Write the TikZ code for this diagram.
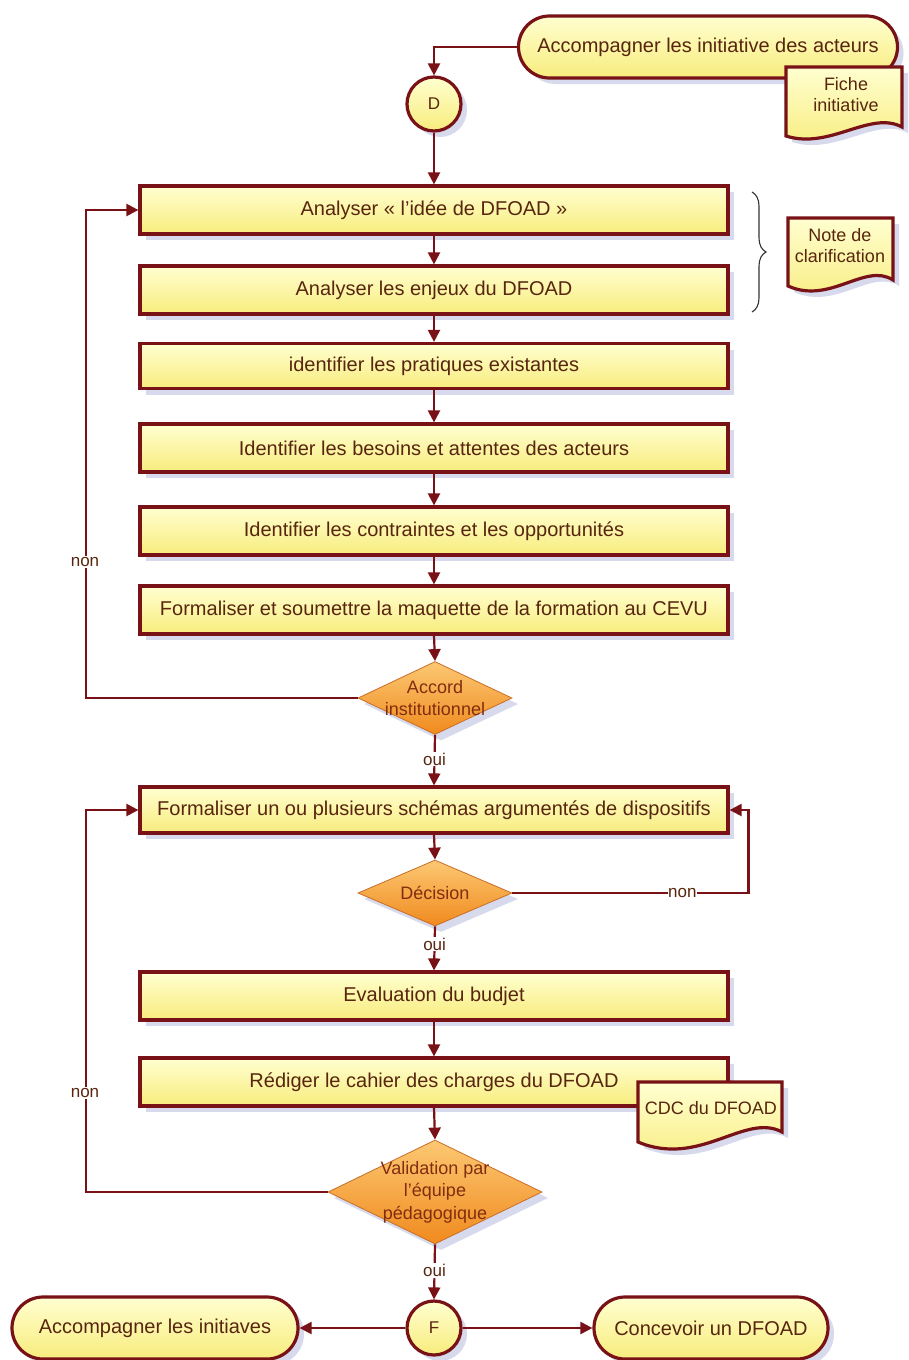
\documentclass[tikz,border=0pt]{standalone}
\usepackage{fontspec}
\setmainfont{Liberation Sans}
\usetikzlibrary{shapes.geometric,shapes.misc,shadows,arrows.meta,decorations.pathreplacing}
\definecolor{brd}{RGB}{120,18,22}
\definecolor{txt}{RGB}{88,38,14}
\definecolor{dtxt}{RGB}{130,45,15}
\definecolor{shd}{RGB}{214,218,236}
\definecolor{ytop}{RGB}{255,255,208}
\definecolor{ybot}{RGB}{248,236,125}
\definecolor{otop}{RGB}{252,200,115}
\definecolor{obot}{RGB}{240,138,30}
\definecolor{obrd}{RGB}{200,110,40}
\begin{document}
\begin{tikzpicture}[x=1pt,y=-1pt,
  shadowed/.style={drop shadow={shadow xshift=6pt,shadow yshift=-6pt,fill=shd,opacity=1}},
  proc/.style={rectangle,draw=brd,line width=3.2pt,top color=ytop,bottom color=ybot,
    minimum width=588pt,minimum height=48pt,inner sep=0pt,text=txt,
    font=\fontsize{20}{24}\selectfont,shadowed},
  term/.style={rounded rectangle,draw=brd,line width=3.2pt,top color=ytop,bottom color=ybot,
    minimum height=62pt,inner sep=0pt,text=txt,font=\fontsize{20}{24}\selectfont,shadowed},
  conn/.style={circle,draw=brd,line width=3.2pt,top color=ytop,bottom color=ybot,
    minimum size=54pt,inner sep=0pt,text=txt,font=\fontsize{17}{18}\selectfont,shadowed},
  dec/.style={diamond,draw=obrd,line width=0.8pt,top color=otop,bottom color=obot,
    inner sep=0pt,shadowed},
  dectext/.style={align=center,text=dtxt,font=\fontsize{18}{22.5}\selectfont},
  docshape/.style={draw=brd,line width=3.2pt,top color=ytop,bottom color=ybot,shadowed},
  doctext/.style={align=center,text=txt,font=\fontsize{18}{21}\selectfont},
  arr/.style={draw=brd,line width=2.2pt,-{Triangle[length=12pt,width=12pt]}},
  lbl/.style={fill=white,inner sep=1pt,text=txt,font=\fontsize{17}{20}\selectfont}]
\useasboundingbox[fill=white] (0,0) rectangle (908,1360);

% top start
\node[term,minimum width=379pt] (start) at (708,47) {Accompagner les initiative des acteurs};
\path[docshape] (786,67) -- (902,67) -- (902,127)
  .. controls (870,110) and (830,150) .. (786,136) -- cycle;
\node[doctext] (fiche) at (846,95) {Fiche\\initiative};

\node[conn] (D) at (434,104) {D};
\draw[arr] (start.west) -| (D.north);

% process boxes
\node[proc] (b1) at (434,210) {Analyser « l'idée de DFOAD »};
\node[proc] (b2) at (434,290) {Analyser les enjeux du DFOAD};
\node[proc,minimum height=45pt] (b3) at (434,366) {identifier les pratiques existantes};
\node[proc] (b4) at (434,448) {Identifier les besoins et attentes des acteurs};
\node[proc] (b5) at (434,531) {Identifier les contraintes et les opportunités};
\node[proc] (b6) at (434,610) {Formaliser et soumettre la maquette de la formation au CEVU};

\draw[arr] (D.south) -- (b1.north);
\draw[arr] (b1.south) -- (b2.north);
\draw[arr] (b2.south) -- (b3.north);
\draw[arr] (b3.south) -- (b4.north);
\draw[arr] (b4.south) -- (b5.north);
\draw[arr] (b5.south) -- (b6.north);

% brace and note
\draw[decorate,decoration={brace,amplitude=14pt},line width=1.1pt,draw=black!80] (752,192) -- (752,312);
\path[docshape] (788,218) -- (893,218) -- (893,280)
  .. controls (865,262) and (830,305) .. (788,286) -- cycle;
\node[doctext] (note) at (840,246) {Note de\\clarification};

% decision 1
\node[dec,minimum width=154pt,minimum height=73pt] (acc) at (435,698) {};
\node[dectext] (acct) at (435,698) {Accord\\institutionnel};
\draw[arr] (b6.south) -- (acc.north);

\node[proc,minimum height=46pt] (b7) at (434,810) {Formaliser un ou plusieurs schémas argumentés de dispositifs};
\draw[arr] (acc.south) -- node[lbl,pos=0.48] (oui1) {oui} (b7.north);
\draw[arr] (acc.west) -- ++(-272,0) |- (b1.west);
\node[lbl] (non1) at (85,562) {non};

% decision 2
\node[dec,minimum width=154pt,minimum height=66pt] (decn) at (435,893) {};
\node[dectext] (dect) at (435,893) {Décision};
\draw[arr] (b7.south) -- (decn.north);
\draw[arr] (decn.east) -- node[lbl,pos=0.72,inner sep=0pt] (non2) {non} ++(236,0) |- (b7.east);

\node[proc] (b8) at (434,996) {Evaluation du budjet};
\draw[arr] (decn.south) -- node[lbl,pos=0.4] (oui2) {oui} (b8.north);

\node[proc] (b9) at (434,1082) {Rédiger le cahier des charges du DFOAD};
\draw[arr] (b8.south) -- (b9.north);

\path[docshape] (638,1082) -- (782,1082) -- (782,1132)
  .. controls (745,1112) and (700,1168) .. (638,1142) -- cycle;
\node[doctext] (cdc) at (711,1108) {CDC du DFOAD};

% decision 3
\node[dec,minimum width=214pt,minimum height=104pt] (val) at (435,1192) {};
\node[dectext] (valt) at (435,1192) {Validation par\\l'équipe\\pédagogique};
\draw[arr] (b9.south) -- (val.north);
\draw[arr] (val.west) -- ++(-242,0) |- (b7.west);
\node[lbl] (non3) at (85,1093) {non};

% end
\node[conn] (F) at (434,1328) {F};
\draw[arr] (val.south) -- node[lbl,pos=0.47] (oui3) {oui} (F.north);
\node[term,minimum width=286pt] (endl) at (155,1328) {Accompagner les initiaves};
\node[term,minimum width=234pt] (endr) at (711,1328) {Concevoir un DFOAD};
\draw[arr] (F.west) -- (endl.east);
\draw[arr] (F.east) -- (endr.west);
\end{tikzpicture}
\end{document}
